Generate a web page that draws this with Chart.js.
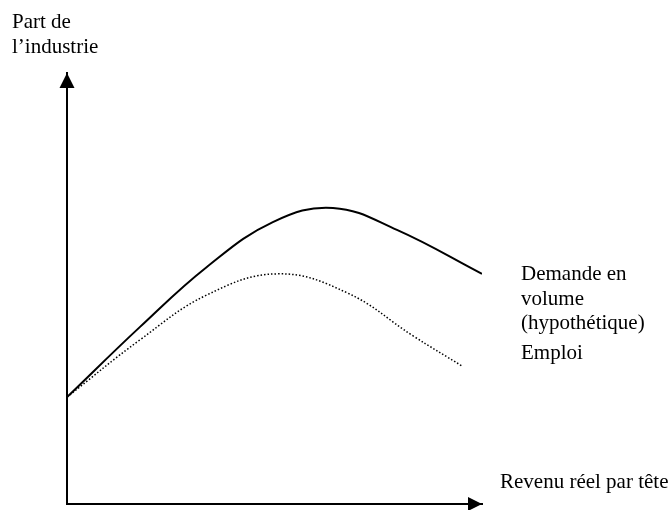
<!DOCTYPE html>
<html lang="fr">
<head>
<meta charset="utf-8">
<title>Part de l'industrie</title>
<script src="https://cdn.jsdelivr.net/npm/chart.js@4/dist/chart.umd.min.js"></script>
<style>
    html, body { margin: 0; padding: 0; background: #ffffff; }
    #chart { display: block; }
</style>
</head>
<body>
<canvas id="chart" width="671" height="510"></canvas>
<script>
const revenuDemande = [0, 1.76, 3.37, 4.96, 6.41, 7.95, 10.0];
const demande       = [2.48, 4.11, 5.50, 6.54, 6.87, 6.36, 5.34];
const revenuEmploi  = [0, 1.76, 3.37, 5.08, 6.75, 8.34, 9.52];
const emploi        = [2.48, 3.81, 4.85, 5.34, 4.90, 3.90, 3.20];

const titreY = ['Part de', 'l\u2019industrie'];
const titreX = 'Revenu réel par tête';
const labelDemande = ['Demande en', 'volume', '(hypothétique)'];
const labelEmploi = 'Emploi';

const FONT = '21px "Liberation Serif", "Times New Roman", serif';

function toPoints(xs, ys) {
    return xs.map((x, i) => ({ x: x, y: ys[i] }));
}

// flèches au bout des axes + textes
const annotations = {
    id: 'annotations',
    afterDraw(chart) {
        const { ctx, chartArea: a } = chart;
        ctx.save();
        ctx.fillStyle = '#000';

        ctx.beginPath();
        ctx.moveTo(a.left, a.top);
        ctx.lineTo(a.left - 7.5, a.top + 15);
        ctx.lineTo(a.left + 7.5, a.top + 15);
        ctx.closePath();
        ctx.fill();

        ctx.beginPath();
        ctx.moveTo(a.right, a.bottom);
        ctx.lineTo(a.right - 14, a.bottom - 7);
        ctx.lineTo(a.right - 14, a.bottom + 7);
        ctx.closePath();
        ctx.fill();

        ctx.font = FONT;
        ctx.textBaseline = 'alphabetic';
        ctx.textAlign = 'left';
        ctx.fillText(titreY[0], 12, 28);
        ctx.fillText(titreY[1], 12, 53);

        labelDemande.forEach((line, i) => ctx.fillText(line, 521, 280 + i * 24.5));
        ctx.fillText(labelEmploi, 521, 359);
        ctx.fillText(titreX, 500, 488);
        ctx.restore();
    }
};

const axisOptions = {
    min: 0,
    max: 10,
    ticks: { display: false },
    grid: { display: false, drawTicks: false },
    border: { display: true, color: '#000', width: 2 }
};

new Chart(document.getElementById('chart'), {
    type: 'line',
    data: {
        datasets: [
            {
                label: 'Demande en volume (hypothétique)',
                data: toPoints(revenuDemande, demande),
                borderColor: '#000',
                borderWidth: 2,
                tension: 0.4,
                pointRadius: 0,
                fill: false
            },
            {
                label: 'Emploi',
                data: toPoints(revenuEmploi, emploi),
                borderColor: '#000',
                borderWidth: 1.5,
                borderDash: [1.5, 2],
                tension: 0.4,
                pointRadius: 0,
                fill: false
            }
        ]
    },
    options: {
        responsive: false,
        animation: false,
        layout: { padding: { left: 67, top: 73, right: 189, bottom: 6 } },
        plugins: {
            legend: { display: false },
            tooltip: { enabled: false }
        },
        scales: {
            x: Object.assign({ type: 'linear' }, axisOptions),
            y: Object.assign({ type: 'linear' }, axisOptions)
        }
    },
    plugins: [annotations]
});
</script>
</body>
</html>
